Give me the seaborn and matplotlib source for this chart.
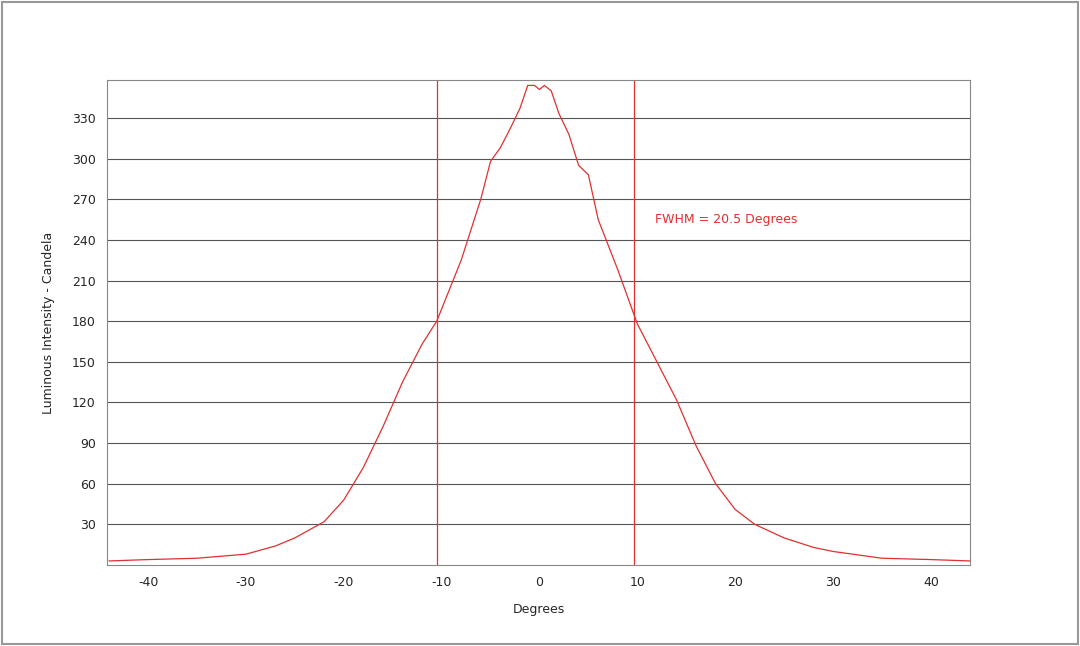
import matplotlib
matplotlib.use("Agg")
import matplotlib.pyplot as plt
import seaborn as sns
import pandas as pd

degrees = [-44, -40, -35, -30, -28, -27, -25, -22, -20, -18, -16, -14, -12, -10.5, -8, -6, -5, -4, -3, -2, -1.2, -0.5, 0, 0.5, 1.2, 2, 3, 4, 5, 6, 8, 10, 12, 14, 16, 18, 20, 22, 25, 28, 30, 35, 40, 44]
intensity = [3, 4, 5, 8, 12, 14, 20, 32, 48, 72, 102, 135, 163, 180, 225, 270, 298, 308, 322, 337, 354, 354, 351, 354, 350, 333, 318, 295, 288, 255, 218, 178, 150, 122, 88, 60, 41, 30, 20, 13, 10, 5, 4, 3]
yticks = [30, 60, 90, 120, 150, 180, 210, 240, 270, 300, 330]
xticks = [-40, -30, -20, -10, 0, 10, 20, 30, 40]
fwhm_lines = [-10.5, 9.7]

sns.set_style("white")
plt.rcParams["axes.unicode_minus"] = False
fig = plt.figure(figsize=(10.8, 6.46), dpi=100)
ax = fig.add_axes([107/1080, 1-565/646, 863/1080, 485/646])
df = pd.DataFrame({"Degrees": degrees, "Intensity": intensity})
sns.lineplot(data=df, x="Degrees", y="Intensity", ax=ax, color="#e03030", linewidth=0.9)
for v in fwhm_lines:
    ax.axvline(v, color="#e03030", linewidth=0.9)
ax.set_xlim(-44.2, 44)
ax.set_ylim(0, 358)
ax.set_yticks(yticks)
ax.set_xticks(xticks)
ax.yaxis.grid(True, color="#555555", linewidth=0.8)
ax.set_axisbelow(True)
for s in ax.spines.values():
    s.set_color("#888888")
ax.tick_params(labelsize=9, length=0, pad=8)
ax.set_xlabel("Degrees", fontsize=9, labelpad=10)
ax.set_ylabel("Luminous Intensity - Candela", fontsize=9, labelpad=12)
ax.text(11.8, 255, "FWHM = 20.5 Degrees", color="#e03030", fontsize=9, va="center")
fig.patches.append(plt.Rectangle((0.002, 0.003), 0.996, 0.994, transform=fig.transFigure, fill=False, edgecolor="#999999", linewidth=1.5))
fig.savefig("out.png", dpi=100)
